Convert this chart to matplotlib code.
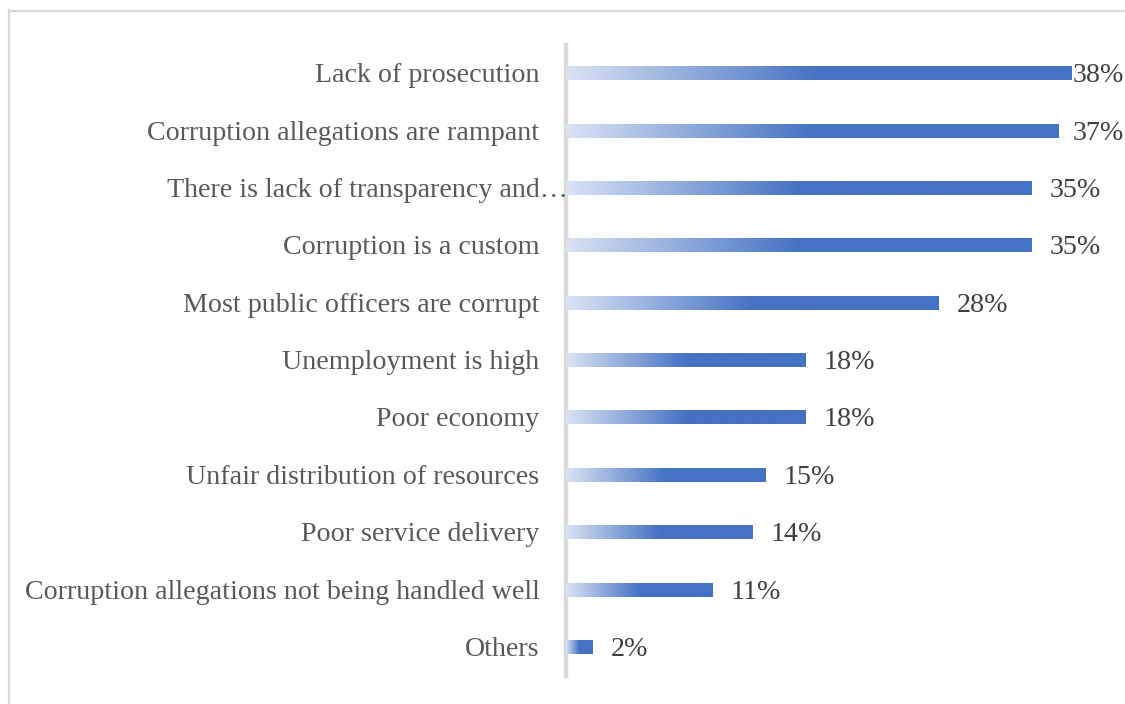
import matplotlib.pyplot as plt
import numpy as np
from matplotlib.colors import LinearSegmentedColormap
from matplotlib.lines import Line2D

categories = [
    'Lack of prosecution',
    'Corruption allegations are rampant',
    'There is lack of transparency and\u2026',
    'Corruption is a custom',
    'Most public officers are corrupt',
    'Unemployment is high',
    'Poor economy',
    'Unfair distribution of resources',
    'Poor service delivery',
    'Corruption allegations not being handled well',
    'Others',
]
values = [38, 37, 35, 35, 28, 18, 18, 15, 14, 11, 2]

plt.rcParams['font.family'] = ['Liberation Serif', 'DejaVu Serif']

fig = plt.figure(figsize=(11.25, 7.04), dpi=100)
ax = fig.add_axes([566 / 1125, 28 / 704, 532 / 1125, 631 / 704])

# light blue -> office blue over the first half of each bar, then solid
cmap = LinearSegmentedColormap.from_list(
    'bar', [(0, '#dae3f3'), (0.5, '#4472c4'), (1, '#4472c4')])
grad = np.linspace(0, 1, 256).reshape(1, -1)

n = len(categories)
h = 0.23
fs = 20.2
for i, (cat, v) in enumerate(zip(categories, values)):
    y = n - 1 - i
    ax.imshow(grad, cmap=cmap, aspect='auto', zorder=3,
              extent=[0, v, y - h / 2, y + h / 2], interpolation='bilinear')
    dx = 1.5 if cat.endswith('\u2026') else -19
    ax.annotate(cat, (0, y), xytext=(dx, -1.5), textcoords='offset points',
                ha='right', va='center', fontsize=fs, color='#595959')
    lbl = ax.annotate(f'{v}%', (v, y), xytext=(13, -1.5), textcoords='offset points',
                      ha='left', va='center', fontsize=fs, color='#404040')
    lbl.set_gid('value')

ax.set_xlim(0, 40)
ax.set_ylim(-0.5, n - 0.5)
ax.set_xticks([])
ax.set_yticks([])
for s in ['top', 'right', 'bottom']:
    ax.spines[s].set_visible(False)
ax.spines['left'].set_color('#d9d9d9')
ax.spines['left'].set_linewidth(3.2)
ax.spines['left'].set_zorder(2)

# keep value labels inside the figure
fig.canvas.draw()
r = fig.canvas.get_renderer()
for t in ax.texts:
    if t.get_gid() == 'value':
        bb = t.get_window_extent(r)
        if bb.x1 > 1124:
            t.xyann = (t.xyann[0] - (bb.x1 - 1124) / (100 / 72), t.xyann[1])

# chart area border (top and left edges visible)
fig.add_artist(Line2D([8.5 / 1125, 8.5 / 1125], [0, 1 - 10 / 704],
                      transform=fig.transFigure, color='#d9d9d9', lw=1.6))
fig.add_artist(Line2D([8.5 / 1125, 1.0], [1 - 10.5 / 704, 1 - 10.5 / 704],
                      transform=fig.transFigure, color='#d9d9d9', lw=1.6))

fig.savefig('out.png', dpi=100)
